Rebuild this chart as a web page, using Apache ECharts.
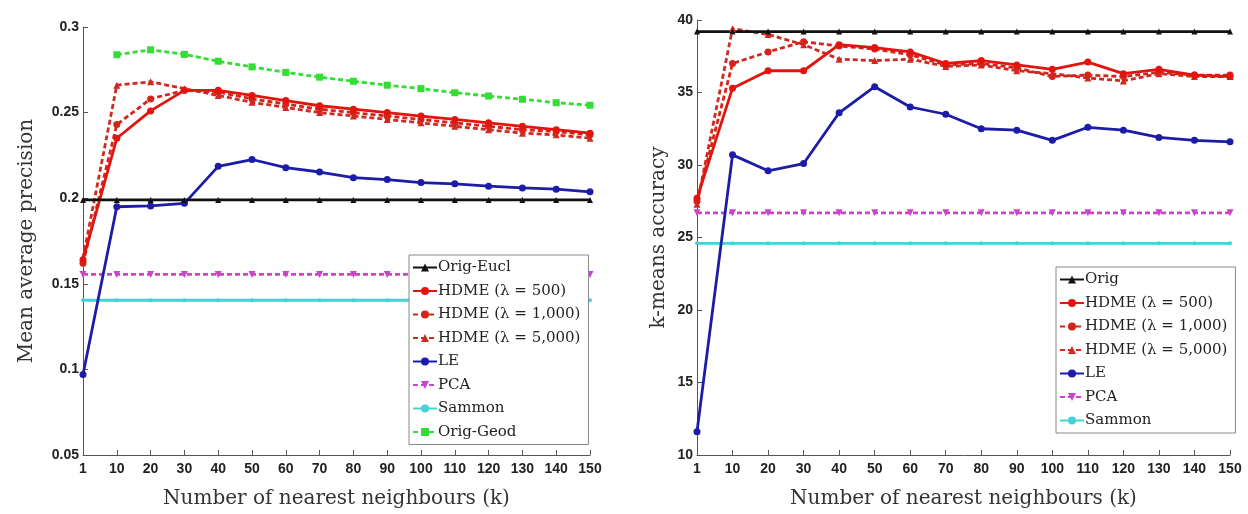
<!DOCTYPE html>
<html><head><meta charset="utf-8">
<script src="https://cdn.jsdelivr.net/npm/echarts@6/dist/echarts.min.js"></script>
<style>html,body{margin:0;padding:0;background:#fff}#c{width:1248px;height:514px}</style>
</head><body><div id="c"></div>
<script>
const kLabels = ['1','10','20','30','40','50','60','70','80','90','100','110','120','130','140','150'];
const leftTicks = [0.05, 0.1, 0.15, 0.2, 0.25, 0.3];
const rightTicks = [10, 15, 20, 25, 30, 35, 40];

// Left: Mean average precision
const mapOrigEucl = [0.199,0.199,0.199,0.199,0.199,0.199,0.199,0.199,0.199,0.199,0.199,0.199,0.199,0.199,0.199,0.199];
const mapHdme500  = [0.164,0.235,0.251,0.263,0.263,0.260,0.257,0.254,0.252,0.250,0.248,0.246,0.244,0.242,0.240,0.238];
const mapHdme1000 = [0.162,0.243,0.258,0.263,0.262,0.258,0.255,0.252,0.250,0.248,0.246,0.244,0.242,0.240,0.239,0.237];
const mapHdme5000 = [0.165,0.266,0.268,0.264,0.260,0.256,0.253,0.250,0.248,0.246,0.244,0.242,0.240,0.238,0.237,0.235];
const mapLE       = [0.097,0.195,0.1955,0.197,0.2186,0.2226,0.2178,0.2153,0.212,0.2109,0.2091,0.2084,0.207,0.206,0.2053,0.2037];
const mapPCA      = [0.1555,0.1555,0.1555,0.1555,0.1555,0.1555,0.1555,0.1555,0.1555,0.1555,0.1555,0.1555,0.1555,0.1555,0.1555,0.1555];
const mapSammon   = [0.1404,0.1404,0.1404,0.1404,0.1404,0.1404,0.1404,0.1404,0.1404,0.1404,0.1404,0.1404,0.1404,0.1404,0.1404,0.1404];
const mapOrigGeod = [null,0.2838,0.2867,0.284,0.280,0.2767,0.2735,0.2707,0.2683,0.266,0.264,0.2616,0.2597,0.2578,0.2558,0.2543];

// Right: k-means accuracy
const kmOrig     = [39.2,39.2,39.2,39.2,39.2,39.2,39.2,39.2,39.2,39.2,39.2,39.2,39.2,39.2,39.2,39.2];
const kmHdme500  = [27.7,35.3,36.5,36.5,38.3,38.1,37.8,37.0,37.2,36.9,36.6,37.1,36.3,36.6,36.2,36.1];
const kmHdme1000 = [27.5,37.0,37.8,38.5,38.2,38.0,37.6,36.9,37.0,36.7,36.1,36.2,36.1,36.4,36.2,36.2];
const kmHdme5000 = [27.3,39.4,39.0,38.3,37.3,37.2,37.3,36.8,36.9,36.5,36.3,36.0,35.8,36.3,36.1,36.1];
const kmLE       = [11.6,30.7,29.6,30.1,33.6,35.4,34.0,33.5,32.5,32.4,31.7,32.6,32.4,31.9,31.7,31.6];
const kmPCA      = [26.7,26.7,26.7,26.7,26.7,26.7,26.7,26.7,26.7,26.7,26.7,26.7,26.7,26.7,26.7,26.7];
const kmSammon   = [24.6,24.6,24.6,24.6,24.6,24.6,24.6,24.6,24.6,24.6,24.6,24.6,24.6,24.6,24.6,24.6];

const leftNames = ['Orig-Eucl','HDME (λ = 500)','HDME (λ = 1,000)','HDME (λ = 5,000)','LE','PCA','Sammon','Orig-Geod'];
const rightNames = ['Orig','HDME (λ = 500)','HDME (λ = 1,000)','HDME (λ = 5,000)','LE','PCA','Sammon'];

const C = {
  black:'#111111', red:'#e3140e', red2:'#d2261c', red3:'#cf2a22',
  blue:'#1c1ca6', magenta:'#cc44cc', cyan:'#44d2d8', green:'#33dd33'
};
const serif = 'DejaVu Serif';
const tickFont = {fontFamily:'Liberation Sans', fontWeight:'bold', fontSize:14, color:'#222'};

function mk(name, data, color, symbol, dashed, idx, size) {
  return {
    name, type:'line', data, xAxisIndex:idx, yAxisIndex:idx,
    symbol, symbolSize: size || 7, showSymbol:true, connectNulls:false,
    lineStyle:{color, width:2.8, type: dashed ? [5,3] : 'solid'},
    itemStyle:{color},
    animation:false, silent:true
  };
}

function xAxis(idx){
  return {
    type:'category', gridIndex:idx, data:kLabels, boundaryGap:false,
    axisLine:{lineStyle:{color:'#555', width:1}},
    axisTick:{inside:true, length:5, lineStyle:{color:'#555'}},
    axisLabel:Object.assign({margin:7}, tickFont),
    name:'Number of nearest neighbours (k)', nameLocation:'middle', nameGap:34,
    nameTextStyle:{fontFamily:serif, fontSize:20, color:'#333'},
    splitLine:{show:false}
  };
}

const option = {
  backgroundColor:'#fff',
  animation:false,
  grid:[
    {left:83, right:658, top:27, bottom:55},
    {left:697, right:18, top:20, bottom:55}
  ],
  xAxis:[xAxis(0), xAxis(1)],
  yAxis:[
    {type:'value', gridIndex:0, min:0.05, max:0.3, interval:0.05,
     axisLine:{show:true, lineStyle:{color:'#555', width:1}},
     axisTick:{show:true, inside:true, length:5, lineStyle:{color:'#555'}},
     axisLabel:Object.assign({margin:4}, tickFont),
     splitLine:{show:false},
     name:'Mean average precision', nameLocation:'middle', nameGap:46,
     nameTextStyle:{fontFamily:serif, fontSize:20, color:'#333'}},
    {type:'value', gridIndex:1, min:10, max:40, interval:5,
     axisLine:{show:true, lineStyle:{color:'#555', width:1}},
     axisTick:{show:true, inside:true, length:5, lineStyle:{color:'#555'}},
     axisLabel:Object.assign({margin:4}, tickFont),
     splitLine:{show:false},
     name:'k-means accuracy', nameLocation:'middle', nameGap:28,
     nameTextStyle:{fontFamily:serif, fontSize:20, color:'#333'}}
  ],
  legend:[
    {data:leftNames, orient:'vertical', left:409, top:255, itemWidth:24, itemHeight:10, itemGap:8.5,
     padding:[5,8,5,3], borderColor:'#888', borderWidth:1, backgroundColor:'#fff',
     textStyle:{fontFamily:serif, fontSize:15, color:'#222', padding:[0,0,0,-4]}, selectedMode:false},
    {data:rightNames, orient:'vertical', left:1056, top:267, itemWidth:24, itemHeight:10, itemGap:8.5,
     padding:[5,8,5,3], borderColor:'#888', borderWidth:1, backgroundColor:'#fff',
     textStyle:{fontFamily:serif, fontSize:15, color:'#222', padding:[0,0,0,-4]}, selectedMode:false}
  ],
  series:[
    mk('Sammon', mapSammon, C.cyan, 'circle', false, 0, 4),
    mk('PCA', mapPCA, C.magenta, 'triangle', true, 0, 7),
    mk('Orig-Geod', mapOrigGeod, C.green, 'rect', true, 0, 7),
    mk('LE', mapLE, C.blue, 'circle', false, 0, 7),
    mk('HDME (λ = 5,000)', mapHdme5000, C.red3, 'triangle', true, 0, 7),
    mk('HDME (λ = 1,000)', mapHdme1000, C.red2, 'circle', true, 0, 7),
    mk('HDME (λ = 500)', mapHdme500, C.red, 'circle', false, 0, 7),
    mk('Orig-Eucl', mapOrigEucl, C.black, 'triangle', false, 0, 6),

    mk('Sammon', kmSammon, C.cyan, 'circle', false, 1, 4),
    mk('PCA', kmPCA, C.magenta, 'triangle', true, 1, 7),
    mk('LE', kmLE, C.blue, 'circle', false, 1, 7),
    mk('HDME (λ = 5,000)', kmHdme5000, C.red3, 'triangle', true, 1, 7),
    mk('HDME (λ = 1,000)', kmHdme1000, C.red2, 'circle', true, 1, 7),
    mk('HDME (λ = 500)', kmHdme500, C.red, 'circle', false, 1, 7),
    mk('Orig', kmOrig, C.black, 'triangle', false, 1, 6)
  ]
};
// PCA uses downward triangles
option.series.forEach(s => { if (s.name === 'PCA') s.symbolRotate = 180; });

const chart = echarts.init(document.getElementById('c'), null, {renderer:'canvas'});
chart.setOption(option);
</script></body></html>
